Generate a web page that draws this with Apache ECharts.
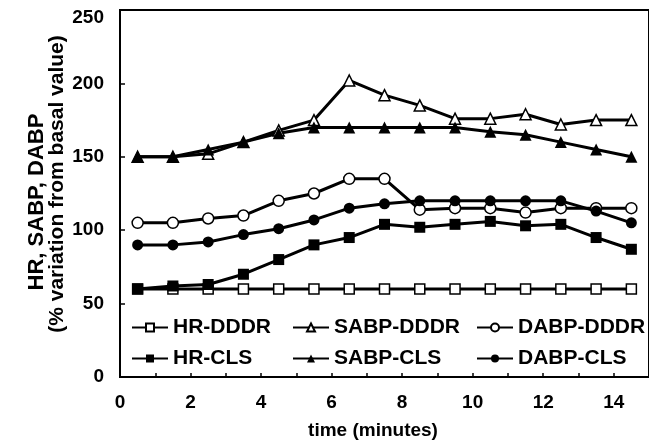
<!DOCTYPE html>
<html>
<head>
<meta charset="utf-8">
<script src="https://cdn.jsdelivr.net/npm/echarts@6/dist/echarts.min.js"></script>
<style>
  html, body { margin: 0; padding: 0; background: #fff; }
  #chart { width: 649px; height: 444px; }
</style>
</head>
<body>
<div id="chart"></div>
<script>
// Sampling times (minutes) and percent variation from basal value
const times = [0.5, 1.5, 2.5, 3.5, 4.5, 5.5, 6.5, 7.5, 8.5, 9.5, 10.5, 11.5, 12.5, 13.5, 14.5];
const hrDddr   = [60, 60, 60, 60, 60, 60, 60, 60, 60, 60, 60, 60, 60, 60, 60];
const sabpDddr = [150, 150, 152, 160, 168, 175, 202, 192, 185, 176, 176, 179, 172, 175, 175];
const dabpDddr = [105, 105, 108, 110, 120, 125, 135, 135, 114, 115, 115, 112, 115, 115, 115];
const hrCls    = [60, 62, 63, 70, 80, 90, 95, 104, 102, 104, 106, 103, 104, 95, 87];
const sabpCls  = [150, 150, 155, 160, 166, 170, 170, 170, 170, 170, 167, 165, 160, 155, 150];
const dabpCls  = [90, 90, 92, 97, 101, 107, 115, 118, 120, 120, 120, 120, 120, 113, 105];
const yTicks = [0, 50, 100, 150, 200, 250];
const xLabelStep = 2;

const FONT = 'Liberation Sans, Arial, sans-serif';

function pairs(vals) {
  return times.map((t, i) => [t, vals[i]]);
}

function lineSeries(name, vals, symbol, size, filled) {
  return {
    name: name,
    type: 'line',
    data: pairs(vals),
    symbol: symbol,
    symbolSize: size,
    showAllSymbol: true,
    lineStyle: { color: '#000', width: 3 },
    itemStyle: {
      color: filled ? '#000' : '#fff',
      borderColor: '#000',
      borderWidth: filled ? 0 : 1.5
    },
    emphasis: { disabled: true },
    animation: false
  };
}

// legend entries: name, icon left position, row top
const legendSlots = [
  ['HR-DDDR', 131, 317],
  ['SABP-DDDR', 292, 317],
  ['DABP-DDDR', 476, 317],
  ['HR-CLS', 131, 348],
  ['SABP-CLS', 292, 348],
  ['DABP-CLS', 476, 348]
];

const chart = echarts.init(document.getElementById('chart'), null, { renderer: 'canvas' });

const yMax = yTicks[yTicks.length - 1];

chart.setOption({
  backgroundColor: '#fff',
  animation: false,
  grid: {
    left: 120, top: 10, width: 536, height: 367,
    show: true, borderColor: '#000', borderWidth: 2, backgroundColor: 'transparent'
  },
  legend: legendSlots.map(([name, left, top]) => ({
    data: [name],
    left: left,
    top: top,
    itemWidth: 36,
    itemHeight: 10,
    itemGap: 0,
    padding: 0,
    selectedMode: false,
    textStyle: { color: '#000', fontFamily: FONT, fontWeight: 'bold', fontSize: 21 }
  })),
  xAxis: {
    type: 'value',
    min: 0,
    max: 15,
    interval: 1,
    axisLine: { lineStyle: { color: '#000', width: 2 } },
    axisTick: { inside: true, length: 4, lineStyle: { color: '#000', width: 1.5 } },
    splitLine: { show: false },
    axisLabel: {
      color: '#000', fontFamily: FONT, fontWeight: 'bold', fontSize: 19, margin: 16,
      showMaxLabel: false,
      formatter: v => (v % xLabelStep === 0 ? String(v) : '')
    }
  },
  yAxis: {
    type: 'value',
    min: yTicks[0],
    max: yMax,
    interval: yTicks[1] - yTicks[0],
    axisLine: { show: true, lineStyle: { color: '#000', width: 2 } },
    axisTick: { show: true, inside: true, length: 5, lineStyle: { color: '#000', width: 1.5 } },
    splitLine: { show: false },
    axisLabel: {
      color: '#000', fontFamily: FONT, fontWeight: 'bold', fontSize: 19, margin: 16,
      // the top label sits just under the frame line
      formatter: v => (v === yMax ? '{top|' + v + '}' : String(v)),
      rich: { top: { fontFamily: FONT, fontWeight: 'bold', fontSize: 19, color: '#000', padding: [15, 0, 0, 0] } }
    }
  },
  graphic: [
    {
      type: 'text', x: 37, y: 202, rotation: Math.PI / 2,
      style: { text: 'HR, SABP, DABP', fill: '#000', font: 'bold 22px ' + FONT, textAlign: 'center', textVerticalAlign: 'middle' }
    },
    {
      type: 'text', x: 57, y: 184, rotation: Math.PI / 2,
      style: { text: '(% variation from basal value)', fill: '#000', font: 'bold 21px ' + FONT, textAlign: 'center', textVerticalAlign: 'middle' }
    },
    {
      type: 'text', x: 373, y: 431,
      style: { text: 'time (minutes)', fill: '#000', font: 'bold 19px ' + FONT, textAlign: 'center', textVerticalAlign: 'middle' }
    }
  ],
  series: [
    lineSeries('HR-DDDR', hrDddr, 'rect', 10, false),
    lineSeries('SABP-DDDR', sabpDddr, 'triangle', 11, false),
    lineSeries('DABP-DDDR', dabpDddr, 'circle', 11, false),
    lineSeries('HR-CLS', hrCls, 'rect', 11, true),
    lineSeries('SABP-CLS', sabpCls, 'triangle', 12, true),
    lineSeries('DABP-CLS', dabpCls, 'circle', 11, true)
  ]
});
</script>
</body>
</html>
